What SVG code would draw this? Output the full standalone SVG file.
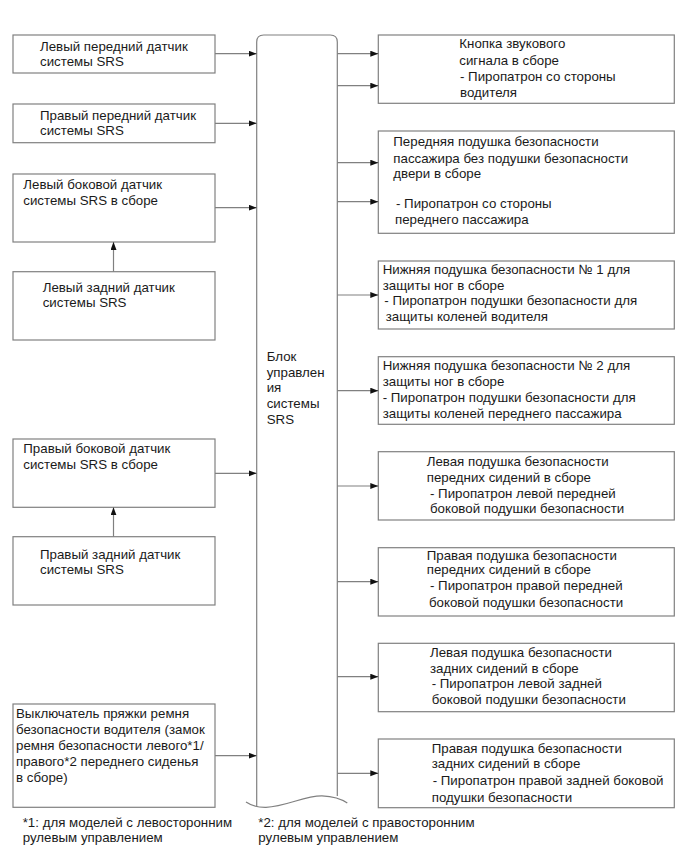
<svg xmlns="http://www.w3.org/2000/svg" width="690" height="853" viewBox="0 0 690 853">
<defs>
<marker id="ah" markerUnits="userSpaceOnUse" markerWidth="9" markerHeight="7" refX="8" refY="3" orient="auto">
<path d="M0,0 L8,3 L0,6 z" fill="#111"/>
</marker>
<style>
.box{fill:#fff;stroke:#808080;stroke-width:1.2}
.t{font-family:"Liberation Sans",Arial,sans-serif;font-size:13.3px;fill:#1a1a1a}
.c{fill:none;stroke:#808080;stroke-width:1.2}
.a{fill:none;stroke:#808080;stroke-width:1.2;marker-end:url(#ah)}
</style>
</defs>
<rect width="690" height="853" fill="#fff"/>

<g id="ecu">
<path class="c" d="M256.7,806 L256.7,42 Q256.7,35 263.7,35 L330.3,35 Q337.3,35 337.3,42 L337.3,796"/>
<path class="c" d="M246,802 Q254,807.5 266,807.3 C286,806.5 305,795.5 322,795.8 Q338,796.5 347.3,803"/>
<text class="t"><tspan x="266.7" y="361">Блок</tspan><tspan x="266.7" y="376.7">управлен</tspan><tspan x="266.7" y="392.3">ия</tspan><tspan x="266.7" y="408.3">системы</tspan><tspan x="266.7" y="424.3">SRS</tspan></text>
</g>

<g id="L1"><rect class="box" x="13" y="35" width="202" height="38"/>
<text class="t"><tspan x="40" y="50.5">Левый передний датчик</tspan><tspan x="40" y="66">системы SRS</tspan></text></g>
<g id="L2"><rect class="box" x="13" y="104" width="202" height="38.7"/>
<text class="t"><tspan x="40" y="119.5">Правый передний датчик</tspan><tspan x="40" y="135">системы SRS</tspan></text></g>
<g id="L3"><rect class="box" x="13" y="174" width="202" height="68"/>
<text class="t"><tspan x="23.3" y="189">Левый боковой датчик</tspan><tspan x="23.3" y="204.5">системы SRS в сборе</tspan></text></g>
<g id="L4"><rect class="box" x="13" y="271.7" width="202" height="68.3"/>
<text class="t"><tspan x="42.7" y="291.7">Левый задний датчик</tspan><tspan x="42.7" y="307.3">системы SRS</tspan></text></g>
<g id="L5"><rect class="box" x="13" y="439" width="202" height="68.3"/>
<text class="t"><tspan x="23.3" y="453.3">Правый боковой датчик</tspan><tspan x="23.3" y="469">системы SRS в сборе</tspan></text></g>
<g id="L6"><rect class="box" x="13" y="536.7" width="202" height="68.3"/>
<text class="t"><tspan x="40" y="559">Правый задний датчик</tspan><tspan x="40" y="574.3">системы SRS</tspan></text></g>
<g id="L7"><rect class="box" x="13" y="704" width="202" height="103.3"/>
<text class="t"><tspan x="16" y="718.3">Выключатель пряжки ремня</tspan><tspan x="16" y="734">безопасности водителя (замок</tspan><tspan x="16" y="750">ремня безопасности левого*1/</tspan><tspan x="16" y="765.7">правого*2 переднего сиденья</tspan><tspan x="16" y="781.7">в сборе)</tspan></text></g>

<g id="R1"><rect class="box" x="378.3" y="35" width="296" height="68.3"/>
<text class="t"><tspan x="459.3" y="48.3">Кнопка звукового</tspan><tspan x="459.3" y="65">сигнала в сборе</tspan><tspan x="460" y="81">- Пиропатрон со стороны</tspan><tspan x="460" y="96.5">водителя</tspan></text></g>
<g id="R2"><rect class="box" x="378.3" y="131" width="296" height="102.3"/>
<text class="t"><tspan x="393.3" y="146">Передняя подушка безопасности</tspan><tspan x="393.3" y="162.7">пассажира без подушки безопасности</tspan><tspan x="393.3" y="178.3">двери в сборе</tspan><tspan x="396" y="208.3">- Пиропатрон со стороны</tspan><tspan x="395" y="224">переднего пассажира</tspan></text></g>
<g id="R3"><rect class="box" x="378.3" y="261" width="296" height="68"/>
<text class="t"><tspan x="382.7" y="274.3">Нижняя подушка безопасности № 1 для</tspan><tspan x="382.7" y="290">защиты ног в сборе</tspan><tspan x="384.3" y="305">- Пиропатрон подушки безопасности для</tspan><tspan x="385.7" y="321">защиты коленей водителя</tspan></text></g>
<g id="R4"><rect class="box" x="378.3" y="356.7" width="296" height="67.6"/>
<text class="t"><tspan x="382.7" y="370">Нижняя подушка безопасности № 2 для</tspan><tspan x="382.7" y="386">защиты ног в сборе</tspan><tspan x="382.7" y="401.7">- Пиропатрон подушки безопасности для</tspan><tspan x="382.7" y="417.7">защиты коленей переднего пассажира</tspan></text></g>
<g id="R5"><rect class="box" x="378.3" y="451.7" width="296" height="68.3"/>
<text class="t"><tspan x="426.7" y="466">Левая подушка безопасности</tspan><tspan x="426.7" y="481.7">передних сидений в сборе</tspan><tspan x="430" y="497.7">- Пиропатрон левой передней</tspan><tspan x="430" y="513.3">боковой подушки безопасности</tspan></text></g>
<g id="R6"><rect class="box" x="378.3" y="547.7" width="296" height="68.3"/>
<text class="t"><tspan x="426.7" y="560">Правая подушка безопасности</tspan><tspan x="426.7" y="574.3">передних сидений в сборе</tspan><tspan x="430" y="590">- Пиропатрон правой передней</tspan><tspan x="429" y="606.7">боковой подушки безопасности</tspan></text></g>
<g id="R7"><rect class="box" x="378.3" y="643.3" width="296" height="68.4"/>
<text class="t"><tspan x="430" y="656.7">Левая подушка безопасности</tspan><tspan x="430" y="672.7">задних сидений в сборе</tspan><tspan x="431.7" y="688.3">- Пиропатрон левой задней</tspan><tspan x="431.7" y="704.3">боковой подушки безопасности</tspan></text></g>
<g id="R8"><rect class="box" x="378.3" y="739" width="296" height="68.7"/>
<text class="t"><tspan x="431.7" y="752.7">Правая подушка безопасности</tspan><tspan x="431.7" y="768.3">задних сидений в сборе</tspan><tspan x="432.7" y="785">- Пиропатрон правой задней боковой</tspan><tspan x="431.7" y="801.7">подушки безопасности</tspan></text></g>

<g id="notes">
<text class="t"><tspan x="22.7" y="827.3">*1: для моделей с левосторонним</tspan><tspan x="22.7" y="842.3">рулевым управлением</tspan></text>
<text class="t"><tspan x="258.3" y="827.3">*2: для моделей с правосторонним</tspan><tspan x="258.3" y="842.3">рулевым управлением</tspan></text>
</g>

<g id="connectors">
<line class="a" x1="215" y1="53.7" x2="256.7" y2="53.7"/>
<line class="a" x1="215" y1="123.3" x2="256.7" y2="123.3"/>
<line class="a" x1="215" y1="207.7" x2="256.7" y2="207.7"/>
<line class="a" x1="215" y1="473.3" x2="256.7" y2="473.3"/>
<line class="a" x1="215" y1="755.7" x2="256.7" y2="755.7"/>
<line class="a" x1="113.5" y1="271.7" x2="113.5" y2="242"/>
<line class="a" x1="113.5" y1="536.7" x2="113.5" y2="507.3"/>
<line class="a" x1="337.3" y1="53.7" x2="378.3" y2="53.7"/>
<line class="a" x1="337.3" y1="85.7" x2="378.3" y2="85.7"/>
<line class="a" x1="337.3" y1="162.7" x2="378.3" y2="162.7"/>
<line class="a" x1="337.3" y1="201.7" x2="378.3" y2="201.7"/>
<line class="a" x1="337.3" y1="295" x2="378.3" y2="295"/>
<line class="a" x1="337.3" y1="390.7" x2="378.3" y2="390.7"/>
<line class="a" x1="337.3" y1="486" x2="378.3" y2="486"/>
<line class="a" x1="337.3" y1="581.7" x2="378.3" y2="581.7"/>
<line class="a" x1="337.3" y1="676.7" x2="378.3" y2="676.7"/>
<line class="a" x1="337.3" y1="773.3" x2="378.3" y2="773.3"/>
</g>
</svg>
